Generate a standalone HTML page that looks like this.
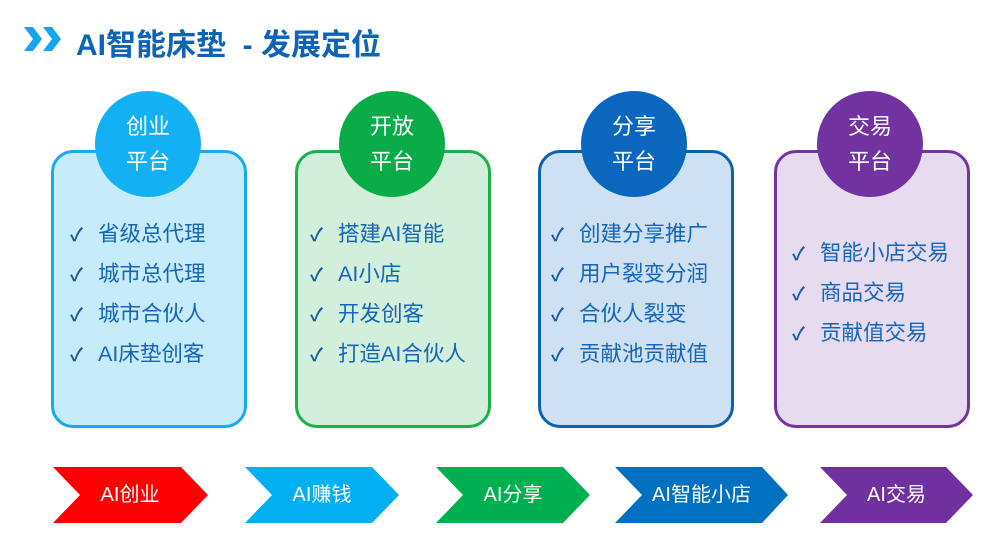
<!DOCTYPE html>
<html><head><meta charset="utf-8"><style>
body{margin:0;width:1000px;height:553px;background:#fff;position:relative;overflow:hidden;font-family:"Liberation Sans","Noto Sans CJK SC",sans-serif}
.a{position:absolute}
.box{position:absolute;top:150px;width:190px;height:272px;border:3px solid;border-radius:22px;box-sizing:content-box}
.c{position:absolute;width:106px;height:106px;border-radius:50%;top:91px;color:#fff;font-size:22px;line-height:35px;text-align:center;display:flex;flex-direction:column;justify-content:center}
.list{position:absolute;color:#1565b8;font-size:21.5px;line-height:39px;white-space:nowrap}
.list span{display:inline-block;width:28px;font-size:18px;color:#1a5aa8;font-weight:bold}
.ch{position:absolute;top:467px;height:56px;color:#fff;font-size:20px;line-height:56px;text-align:center}
</style></head><body>
<svg class="a" style="left:24px;top:27px" width="40" height="24"><polygon points="0,0 9,0 18,12 9,24 0,24 9,12" fill="#15a5ec"/><polygon points="19,0 28,0 37,12 28,24 19,24 28,12" fill="#15a5ec"/></svg>
<div class="a" style="left:76px;top:20px;font-size:30px;font-weight:bold;color:#0d63b8;white-space:nowrap">AI智能床垫&nbsp; - 发展定位</div>

<div class="box" style="left:51px;border-color:#18aaf0;background:#c6ecfc"></div>
<div class="box" style="left:295px;border-color:#1bb04a;background:#d2efdb"></div>
<div class="box" style="left:538px;border-color:#0d62b0;background:#cde1f3"></div>
<div class="box" style="left:774px;border-color:#7533a0;background:#e7dcef"></div>

<div class="c" style="left:95px;background:#14b0f4">创业<br>平台</div>
<div class="c" style="left:339px;background:#0aac47">开放<br>平台</div>
<div class="c" style="left:581px;background:#0a67bd">分享<br>平台</div>
<div class="c" style="left:817px;background:#7232a0">交易<br>平台</div>

<div class="list" style="left:70px;top:215px"><span>✓</span>省级总代理<br><span>✓</span>城市总代理<br><span>✓</span>城市合伙人<br><span>✓</span>AI床垫创客</div>
<div class="list" style="left:310px;top:215px"><span>✓</span>搭建AI智能<br><span>✓</span>AI小店<br><span>✓</span>开发创客<br><span>✓</span>打造AI合伙人</div>
<div class="list" style="left:551px;top:215px"><span>✓</span>创建分享推广<br><span>✓</span>用户裂变分润<br><span>✓</span>合伙人裂变<br><span>✓</span>贡献池贡献值</div>
<div class="list" style="left:792px;top:234px"><span>✓</span>智能小店交易<br><span>✓</span>商品交易<br><span>✓</span>贡献值交易</div>

<svg class="a" style="left:0;top:467px" width="1000" height="56">
<polygon points="53,0 181,0 208,28 181,56 53,56 80,28" fill="#fe0000"/>
<polygon points="245,0 372,0 399,28 372,56 245,56 272,28" fill="#00b0f0"/>
<polygon points="436,0 563,0 590,28 563,56 436,56 463,28" fill="#00b050"/>
<polygon points="615,0 762,0 788,28 762,56 615,56 642,28" fill="#0070c0"/>
<polygon points="820,0 946,0 973,28 946,56 820,56 847,28" fill="#7030a0"/>
</svg>
<div class="ch" style="left:66px;width:128px">AI创业</div>
<div class="ch" style="left:258px;width:128px">AI赚钱</div>
<div class="ch" style="left:449px;width:128px">AI分享</div>
<div class="ch" style="left:628px;width:147px">AI智能小店</div>
<div class="ch" style="left:833px;width:127px">AI交易</div>
</body></html>
